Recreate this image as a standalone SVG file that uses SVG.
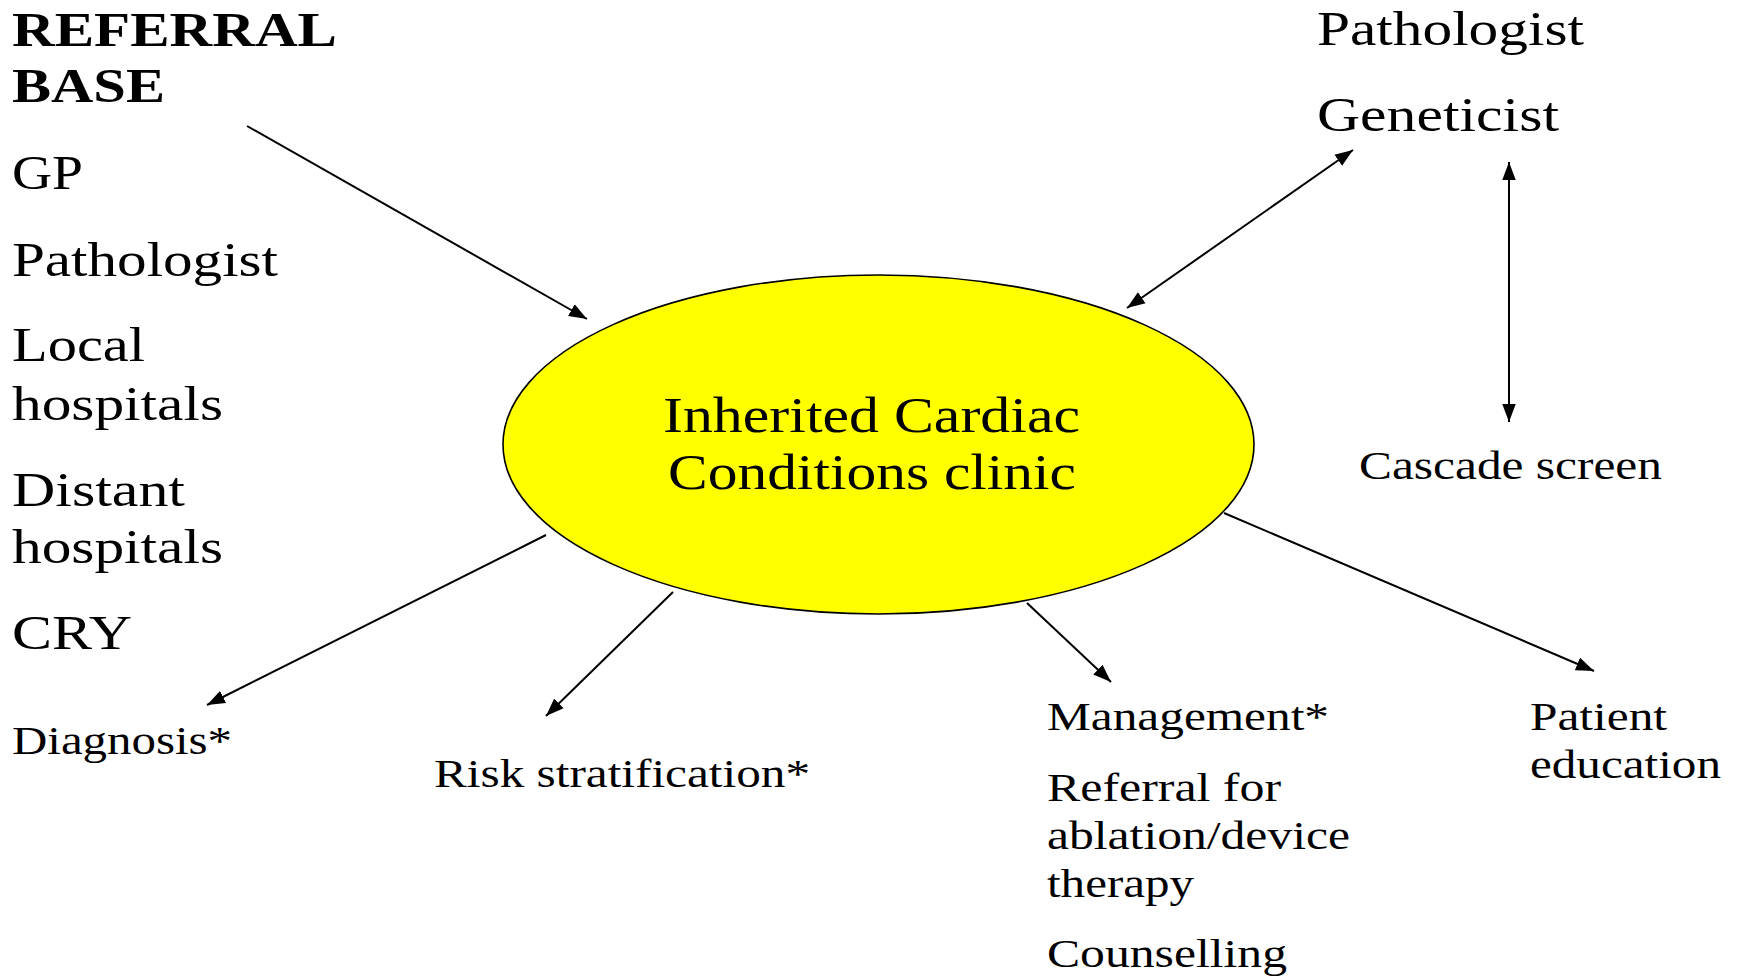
<svg xmlns="http://www.w3.org/2000/svg" width="1740" height="976" viewBox="0 0 1740 976">
<style>
text{font-family:"Liberation Serif","Times New Roman",serif;fill:#000}
.big{font-size:48px}
.bold{font-size:48px;font-weight:bold}
.small{font-size:40px}
.center{font-size:50px}
.conn line{stroke:#000;stroke-width:2}
</style>
<defs>
<marker id="ah" markerUnits="userSpaceOnUse" markerWidth="18" markerHeight="14" refX="16" refY="6" orient="auto-start-reverse" viewBox="0 0 16 12">
<path d="M0,0 L16,6 L0,12 z" fill="#000"/>
</marker>
</defs>
<rect width="1740" height="976" fill="#fff"/>
<g id="clinic">
<ellipse cx="878.5" cy="444.5" rx="375.5" ry="169.5" fill="#ffff00" stroke="#000" stroke-width="1.6"/>
<text class="center" x="663" y="432" textLength="417" lengthAdjust="spacingAndGlyphs">Inherited Cardiac</text>
<text class="center" x="668" y="489" textLength="408" lengthAdjust="spacingAndGlyphs">Conditions clinic</text>
</g>
<g id="referral-base">
<text class="bold" x="12" y="46" textLength="325" lengthAdjust="spacingAndGlyphs">REFERRAL</text>
<text class="bold" x="12" y="102" textLength="153" lengthAdjust="spacingAndGlyphs">BASE</text>
<text class="big" x="12" y="189" textLength="71" lengthAdjust="spacingAndGlyphs">GP</text>
<text class="big" x="12" y="276" textLength="266" lengthAdjust="spacingAndGlyphs">Pathologist</text>
<text class="big" x="12" y="361" textLength="133" lengthAdjust="spacingAndGlyphs">Local</text>
<text class="big" x="12" y="420" textLength="211" lengthAdjust="spacingAndGlyphs">hospitals</text>
<text class="big" x="12" y="506" textLength="173" lengthAdjust="spacingAndGlyphs">Distant</text>
<text class="big" x="12" y="563" textLength="211" lengthAdjust="spacingAndGlyphs">hospitals</text>
<text class="big" x="12" y="649" textLength="120" lengthAdjust="spacingAndGlyphs">CRY</text>
</g>
<g id="pathologist-geneticist">
<text class="big" x="1317" y="45" textLength="267" lengthAdjust="spacingAndGlyphs">Pathologist</text>
<text class="big" x="1317" y="131" textLength="242" lengthAdjust="spacingAndGlyphs">Geneticist</text>
</g>
<g id="cascade-screen">
<text class="small" x="1359" y="479" textLength="303" lengthAdjust="spacingAndGlyphs">Cascade screen</text>
</g>
<g id="diagnosis">
<text class="small" x="12" y="754" textLength="220" lengthAdjust="spacingAndGlyphs">Diagnosis*</text>
</g>
<g id="risk-stratification">
<text class="small" x="434" y="787" textLength="376" lengthAdjust="spacingAndGlyphs">Risk stratification*</text>
</g>
<g id="management">
<text class="small" x="1047" y="730" textLength="282" lengthAdjust="spacingAndGlyphs">Management*</text>
<text class="small" x="1047" y="801" textLength="234" lengthAdjust="spacingAndGlyphs">Referral for</text>
<text class="small" x="1047" y="849" textLength="303" lengthAdjust="spacingAndGlyphs">ablation/device</text>
<text class="small" x="1047" y="897" textLength="147" lengthAdjust="spacingAndGlyphs">therapy</text>
<text class="small" x="1047" y="967" textLength="240" lengthAdjust="spacingAndGlyphs">Counselling</text>
</g>
<g id="patient-education">
<text class="small" x="1530" y="730" textLength="137" lengthAdjust="spacingAndGlyphs">Patient</text>
<text class="small" x="1530" y="778" textLength="191" lengthAdjust="spacingAndGlyphs">education</text>
</g>
<g id="connectors" class="conn">
<line x1="247" y1="126" x2="587" y2="319" marker-end="url(#ah)"/>
<line x1="1127" y1="308" x2="1353" y2="150" marker-start="url(#ah)" marker-end="url(#ah)"/>
<line x1="1509" y1="162" x2="1509" y2="422" marker-start="url(#ah)" marker-end="url(#ah)"/>
<line x1="546" y1="535" x2="207" y2="705" marker-end="url(#ah)"/>
<line x1="673" y1="592" x2="546" y2="716" marker-end="url(#ah)"/>
<line x1="1027" y1="603" x2="1111" y2="682" marker-end="url(#ah)"/>
<line x1="1224" y1="513" x2="1594" y2="671" marker-end="url(#ah)"/>
</g>
</svg>
